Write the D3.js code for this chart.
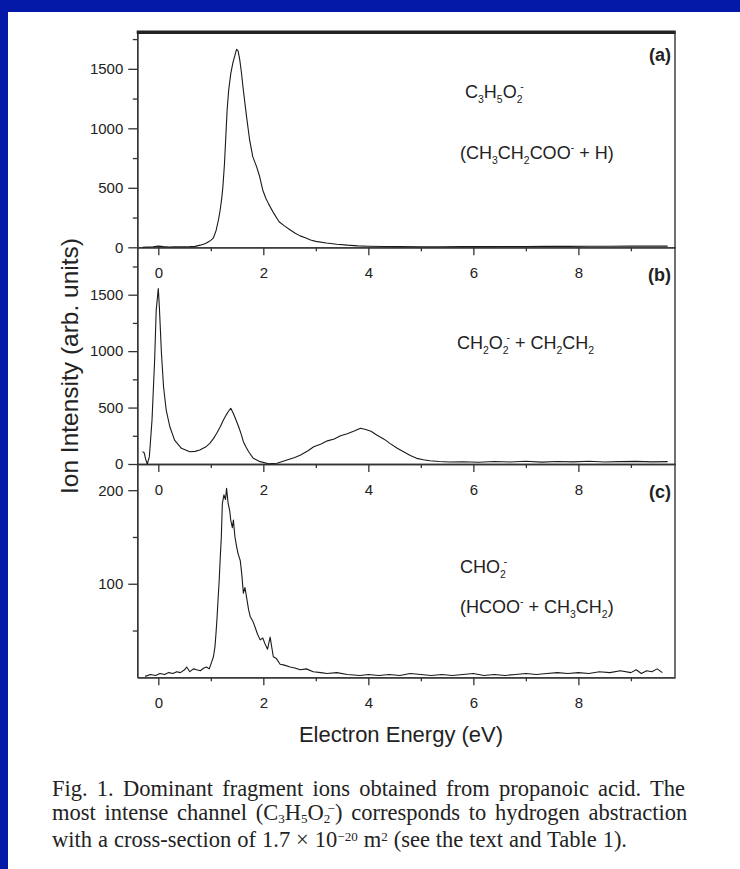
<!DOCTYPE html>
<html><head><meta charset="utf-8">
<script src="https://cdn.jsdelivr.net/npm/d3@7"></script>
<style>body{margin:0;background:#fff}</style>
</head><body>
<script>
// ---------- DATA ----------
const energyA = [
 -0.3,-0.2,-0.1,0.0,0.1,0.2,0.3,0.4,0.5,0.6,
 0.7,0.8,0.9,0.95,1.0,1.05,1.1,1.15,1.18,1.21,
 1.23,1.26,1.28,1.31,1.34,1.38,1.42,1.46,1.49,1.52,
 1.55,1.58,1.62,1.68,1.74,1.80,1.87,1.93,1.99,2.05,
 2.1,2.2,2.3,2.4,2.5,2.6,2.7,2.8,2.9,3.0,
 3.2,3.4,3.6,3.8,4.0,4.3,4.6,5.0,5.4,5.8,
 6.2,6.6,7.0,7.4,7.8,8.2,8.6,9.0,9.3,9.7];
const intensityA = [
 0,2,4,10,6,3,4,5,5,6,
 8,18,32,45,58,80,140,240,320,420,
 510,700,880,1150,1320,1460,1550,1615,1664,1650,
 1580,1480,1320,1100,900,760,680,595,480,410,
 365,285,215,180,150,120,96,80,62,50,
 36,26,18,12,9,7,6,5,5,6,
 6,7,7,8,8,9,9,10,10,10];

const energyB = [
 -0.3,-0.27,-0.24,-0.21,-0.17,-0.12,-0.07,-0.04,0.0,0.02,
 0.06,0.1,0.15,0.22,0.31,0.44,0.6,0.7,0.79,0.9,
 0.98,1.05,1.11,1.18,1.24,1.3,1.33,1.38,1.43,1.48,
 1.53,1.58,1.62,1.67,1.72,1.81,1.94,2.1,2.26,2.45,
 2.6,2.71,2.85,2.96,3.1,3.22,3.35,3.47,3.6,3.73,
 3.85,3.95,4.05,4.16,4.3,4.41,4.55,4.67,4.8,4.92,
 5.05,5.17,5.35,5.55,5.8,6.1,6.4,6.7,7.0,7.3,
 7.6,7.9,8.2,8.5,8.8,9.1,9.4,9.7];
const intensityB = [
 110,100,41,0,65,389,920,1363,1555,1392,
 979,684,478,330,212,139,109,112,124,150,
 183,225,271,330,389,440,463,493,448,390,
 330,262,198,150,109,50,21,2,6,35,
 58,80,118,153,178,205,222,250,268,292,
 316,305,290,257,220,183,140,109,75,50,
 38,29,22,18,20,16,22,18,24,17,
 22,19,24,18,21,23,19,21];

const energyC = [
 -0.25,-0.15,-0.05,0.03,0.12,0.2,0.28,0.35,0.42,0.5,
 0.54,0.6,0.67,0.73,0.8,0.87,0.92,0.97,1.02,1.05,
 1.08,1.1,1.12,1.14,1.16,1.18,1.2,1.22,1.25,1.28,
 1.3,1.33,1.36,1.38,1.41,1.43,1.46,1.49,1.52,1.56,
 1.59,1.62,1.65,1.68,1.72,1.75,1.8,1.84,1.89,1.94,
 1.99,2.03,2.08,2.13,2.19,2.25,2.32,2.4,2.51,2.6,
 2.7,2.82,2.95,3.1,3.21,3.4,3.6,3.84,4.0,4.2,
 4.4,4.6,4.8,5.0,5.2,5.4,5.6,5.8,6.0,6.2,
 6.4,6.6,6.8,7.0,7.2,7.4,7.6,7.8,8.0,8.2,
 8.4,8.6,8.8,9.0,9.1,9.2,9.3,9.4,9.5,9.6];
const intensityC = [
 1,3,2,4,3,5,4,6,5,8,
 11,6,9,8,7,10,11,9,17,22,
 33,48,65,85,104,128,150,186,195,190,
 202,186,178,168,160,168,150,140,132,125,
 110,90,96,86,72,65,60,54,46,40,
 42,36,30,43,22,20,14,13,11,10,
 8,9,6,5,4,5,3,2,3,2,
 3,2,4,3,2,3,2,3,4,2,
 3,2,3,4,3,4,5,4,5,4,
 6,5,7,5,8,4,7,6,9,5];

const xMajorTicks = [0,2,4,6,8];
const xMinorTicks = [1,3,5,7,9];
const yMajorA = [0,500,1000,1500], yMinorA = [250,750,1250,1750];
const yMajorB = [0,500,1000,1500], yMinorB = [250,750,1250,1750];
const yMajorC = [100,200], yMinorC = [50,150];
const panelLabels = ["(a)","(b)","(c)"];
const xTitle = "Electron Energy (eV)";
const yTitle = "Ion Intensity (arb. units)";

// ---------- LAYOUT ----------
const W = 740, H = 869;
const SANS = "'Liberation Sans', Arial, Helvetica, sans-serif";
const SERIF = "'Liberation Serif', 'Times New Roman', serif";
const INK = "#222";

const svg = d3.select("body").append("svg").attr("width", W).attr("height", H);
svg.append("rect").attr("width", W).attr("height", H).attr("fill", "#0419A8");
svg.append("rect").attr("x", 8).attr("y", 12).attr("width", W - 8).attr("height", H - 12).attr("fill", "#fff");

const left = 137.3, right = 675;
const x = d3.scaleLinear().domain([-0.4, 9.84]).range([left, right]);
const fmt = d3.format("d");

const panels = [
  {ex: energyA, iy: intensityA, dom: [0, 1818], rng: [247.3, 31], maj: yMajorA, min: yMinorA},
  {ex: energyB, iy: intensityB, dom: [0, 1920], rng: [464, 247.3], maj: yMajorB, min: yMinorB},
  {ex: energyC, iy: intensityC, dom: [0, 228], rng: [677.3, 464], maj: yMajorC, min: yMinorC}
];

panels.forEach((p, i) => {
  const y = d3.scaleLinear().domain(p.dom).range(p.rng);
  const g = svg.append("g");
  const axisY = p.rng[0];

  g.append("g").attr("transform", `translate(0,${axisY})`)
    .call(d3.axisBottom(x).tickValues(xMajorTicks).tickFormat(fmt).tickSize(8).tickSizeOuter(0).tickPadding(12.3));
  g.append("g").attr("transform", `translate(0,${axisY})`)
    .call(d3.axisBottom(x).tickValues(xMinorTicks).tickSize(4).tickSizeOuter(0).tickFormat(""));

  g.append("g").attr("transform", `translate(${left},0)`)
    .call(d3.axisLeft(y).tickValues(p.maj).tickFormat(fmt).tickSize(9).tickSizeOuter(0).tickPadding(5));
  g.append("g").attr("transform", `translate(${left},0)`)
    .call(d3.axisLeft(y).tickValues(p.min).tickSize(4.5).tickSizeOuter(0).tickFormat(""));

  const line = d3.line().x(d => x(d[0])).y(d => y(d[1]));
  g.append("path").datum(d3.zip(p.ex, p.iy))
    .attr("d", line).attr("fill", "none").attr("stroke", "#1a1a1a")
    .attr("stroke-width", 1.1).attr("stroke-linejoin", "round");

  const labelY = [61, 281, 498][i];
  g.append("text").attr("x", 671).attr("y", labelY).attr("text-anchor", "end")
    .attr("font-family", SANS).attr("font-weight", "bold").attr("font-size", 18)
    .attr("fill", INK).text(panelLabels[i]);
});

svg.selectAll(".tick text").attr("font-family", SANS).attr("font-size", 15).attr("fill", INK);
svg.selectAll(".domain, .tick line").attr("stroke", "#333").attr("stroke-width", 1.3);

svg.append("rect").attr("x", left - 0.6).attr("y", 30.5).attr("width", right - left + 1.2).attr("height", 3.5).attr("fill", "#222");
svg.append("line").attr("x1", right).attr("x2", right).attr("y1", 31).attr("y2", 677.3)
  .attr("stroke", "#333").attr("stroke-width", 1.4);

function formula(sel, px, py, parts, size, family, subK = 0.3, supK = 0.42) {
  const t = sel.append("text").attr("x", px).attr("y", py)
    .attr("font-family", family).attr("font-size", size).attr("fill", INK);
  let shift = 0;
  parts.forEach(part => {
    const [s, kind] = part;
    const ts = t.append("tspan").text(s);
    let target = 0;
    if (kind === "sub") target = size * subK;
    if (kind === "sup" || kind === "stack") target = -size * supK;
    ts.attr("dy", target - shift);
    shift = target;
    if (kind) ts.attr("font-size", size * 0.58);
    if (kind === "stack") ts.attr("dx", -size * 0.12);
  });
  if (shift !== 0) t.append("tspan").attr("dy", -shift).text("");
  return t;
}

const fs = 18;
formula(svg, 465, 98, [["C"],["3","sub"],["H"],["5","sub"],["O"],["2","sub"],["-","stack"]], fs, SANS);
formula(svg, 460, 159, [["(CH"],["3","sub"],["CH"],["2","sub"],["COO"],["-","sup"],[" + H)"]], fs, SANS);
formula(svg, 457, 349, [["CH"],["2","sub"],["O"],["2","sub"],["-","stack"],[" + CH"],["2","sub"],["CH"],["2","sub"]], fs, SANS);
formula(svg, 460, 573, [["CHO"],["2","sub"],["-","stack"]], fs, SANS);
formula(svg, 460, 613, [["(HCOO"],["-","sup"],[" + CH"],["3","sub"],["CH"],["2","sub"],[")"]], fs, SANS);

svg.append("text").attr("x", 401).attr("y", 742).attr("text-anchor", "middle")
  .attr("font-family", SANS).attr("font-size", 22).attr("fill", INK).text(xTitle);
svg.append("text").attr("transform", "translate(78,366) rotate(-90)").attr("text-anchor", "middle")
  .attr("font-family", SANS).attr("font-size", 24.5).attr("fill", INK).text(yTitle);

// caption, justified with word spacing
const cap = 22.5;
function justify(t, width) {
  const w = t.node().getComputedTextLength();
  const spaces = (t.text().match(/ /g) || []).length;
  if (spaces && w < width) t.attr("word-spacing", (width - w) / spaces);
}
justify(formula(svg, 52, 796, [["Fig. 1. Dominant fragment ions obtained from propanoic acid. The"]], cap, SERIF), 633);
justify(formula(svg, 52, 820, [["most intense channel (C"],["3","sub"],["H"],["5","sub"],["O"],["2","sub"],["\u2212","stack"],[") corresponds to hydrogen abstraction"]], cap, SERIF, 0.13, 0.3), 638);
justify(formula(svg, 52, 847, [["with a cross-section of 1.7 \u00d7 10"],["\u221220","sup"],[" m"],["2","sup"],[" (see the text and Table 1)."]], cap, SERIF, 0.13, 0.26), 575);
</script>
</body></html>
